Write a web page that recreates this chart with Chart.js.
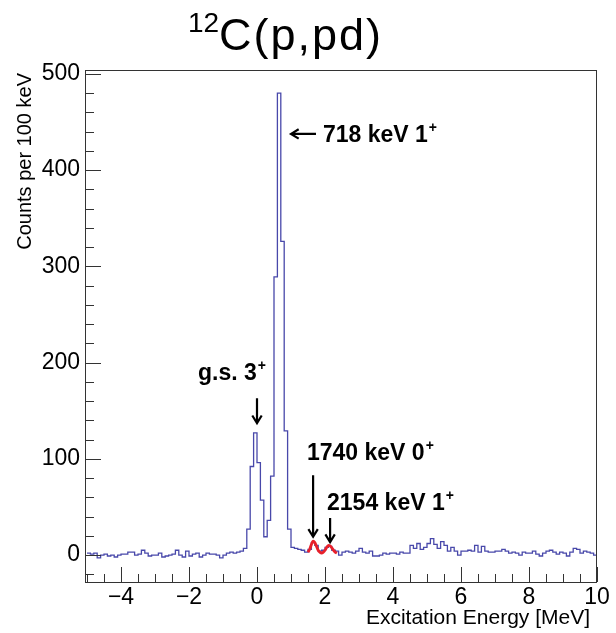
<!DOCTYPE html>
<html>
<head>
<meta charset="utf-8">
<script src="https://cdn.jsdelivr.net/npm/chart.js@4"></script>
<style>
  html, body { margin: 0; padding: 0; background: #fff; }
</style>
</head>
<body>
<canvas id="grafico" width="616" height="633"></canvas>
<script>
// histogram binning: 100 keV bins from -5 MeV
const binStart = -5;
const binWidth = 0.1;

// counts per 100 keV bin (150 bins, -5 .. 10 MeV)
const counts = [
  2, 1, 2, -3, 0, 1, -1, 0, -2, 0,
  1, 1, 3, 3, 0, 1, 5, 2, -1, 0,
  0, 2, -2, -1, 0, 1, 5, 0, -2, 4,
  -1, 1, 2, -2, 0, 2, 1, 1, 0, -3,
  0, 2, 3, 2, 3, 4, 7,
  27, 92, 127, 96, 57, 19, 36, 82, 289, 480, 326, 129, 27, 8,
  7, 6, 5, 3, 6, 13, 10, 4, 5,
  8, 9, 5, 4, 0, 3, 4, 3, 2, 4,
  7, 3, 2, 4, -1, -1, 0, 2, 1, 2,
  2, 1, 3, 2, 2, 10, 7, 12, 6, 8,
  12, 17, 11, 7, 14, 10, 4, 8, 4, 0,
  4, 4, 5, 4, 10, 3, 9, 4, 3, 3,
  4, 4, 6, 4, 2, 3, 2, 0, 3, 2,
  2, 4, 1, -1, 2, 4, 5, 3, 1, 3,
  2, -1, 3, 7, 6, 2, 4, 3, 2, 0
];

// red fit curve
const fitEnergy = [1.50, 1.55, 1.60, 1.65, 1.70, 1.75, 1.80, 1.85, 1.90, 1.95, 2.00, 2.05, 2.10, 2.15, 2.20, 2.25, 2.30, 2.35];
const fitCounts = [3, 6, 11, 14.5, 13, 9, 5, 3, 2, 3, 5, 8, 10, 9.5, 7.5, 5, 3, 2];

const xTicks = [-4, -2, 0, 2, 4, 6, 8, 10];
const yTicks = [0, 100, 200, 300, 400, 500];

// puntos del histograma (borde izquierdo de cada bin + borde final)
const histPoints = counts.map((c, i) => ({ x: binStart + i * binWidth, y: c }));
histPoints.push({ x: binStart + counts.length * binWidth, y: counts[counts.length - 1] });
const fitPoints = fitEnergy.map((e, i) => ({ x: e, y: fitCounts[i] }));

// etiquetas de los estados (posición en unidades de datos)
const estados = [
  { text: '718 keV 1', sup: '+', x: 1.94, y: 429, arrow: [1.735, 437.6, 1.0, 437.6] },
  { text: 'g.s. 3', sup: '+', x: -1.735, y: 182, arrow: [0, 163, 0, 137] },
  { text: '1740 keV 0', sup: '+', x: 1.47, y: 99, arrow: [1.65, 83, 1.65, 19] },
  { text: '2154 keV 1', sup: '+', x: 2.06, y: 47, arrow: [2.15, 38.5, 2.15, 13.5] }
];

function flecha(ctx, x1, y1, x2, y2) {
  const ang = Math.atan2(y2 - y1, x2 - x1);
  const h = 9;
  ctx.beginPath();
  ctx.moveTo(x1, y1);
  ctx.lineTo(x2, y2);
  ctx.moveTo(x2 - h * Math.cos(ang - 0.55), y2 - h * Math.sin(ang - 0.55));
  ctx.lineTo(x2, y2);
  ctx.lineTo(x2 - h * Math.cos(ang + 0.55), y2 - h * Math.sin(ang + 0.55));
  ctx.stroke();
}

const marco = {
  id: 'marco',
  afterDraw(chart) {
    const ctx = chart.ctx;
    const xs = chart.scales.x, ys = chart.scales.y;
    const a = chart.chartArea;
    ctx.save();

    // frame
    ctx.strokeStyle = '#333';
    ctx.lineWidth = 1;
    ctx.strokeRect(a.left - 1.5, a.top + 0.5, a.right - a.left + 1, a.bottom - a.top);

    // ticks hacia dentro
    ctx.beginPath();
    for (let v = -20; v <= 500; v += 20) {
      const y = Math.round(ys.getPixelForValue(v)) + 0.5;
      const len = v % 100 === 0 ? 15 : 8;
      ctx.moveTo(a.left - 1, y);
      ctx.lineTo(a.left - 1 + len, y);
    }
    for (let v = -5; v <= 10; v += 0.5) {
      const x = Math.round(xs.getPixelForValue(v)) + 0.5;
      const len = (Math.abs(v % 2) === 0) ? 15 : 8;
      ctx.moveTo(x, a.bottom);
      ctx.lineTo(x, a.bottom - len);
    }
    ctx.stroke();

    // title
    ctx.fillStyle = '#000';
    ctx.textBaseline = 'alphabetic';
    ctx.textAlign = 'left';
    ctx.font = '28px "Liberation Sans"';
    ctx.fillText('12', 188, 32);
    ctx.font = '45px "Liberation Sans"';
    ctx.letterSpacing = '2px';
    ctx.fillText('C(p,pd)', 219, 50);
    ctx.letterSpacing = '0px';

    // axis titles
    ctx.font = '21px "Liberation Sans"';
    ctx.textAlign = 'right';
    ctx.fillText('Excitation Energy [MeV]', 590, 624);
    ctx.save();
    ctx.translate(25, 73);
    ctx.rotate(-Math.PI / 2);
    ctx.font = '20px "Liberation Sans"';
    ctx.textAlign = 'right';
    ctx.textBaseline = 'middle';
    ctx.fillText('Counts per 100 keV', 0, 0);
    ctx.restore();

    // state labels + arrows
    ctx.textAlign = 'left';
    ctx.textBaseline = 'alphabetic';
    ctx.strokeStyle = '#000';
    ctx.lineWidth = 2.2;
    estados.forEach(s => {
      const x = xs.getPixelForValue(s.x), y = ys.getPixelForValue(s.y);
      ctx.font = 'bold 23px "Liberation Sans"';
      ctx.fillText(s.text, x, y);
      const w = ctx.measureText(s.text).width;
      ctx.font = 'bold 14px "Liberation Sans"';
      ctx.fillText(s.sup, x + w + 1, y - 10);
      const [e1, c1, e2, c2] = s.arrow;
      flecha(ctx, xs.getPixelForValue(e1), ys.getPixelForValue(c1), xs.getPixelForValue(e2), ys.getPixelForValue(c2));
    });
    ctx.restore();
  }
};

new Chart(document.getElementById('grafico'), {
  type: 'line',
  data: {
    datasets: [
      {
        // 'before': cada valor se dibuja sobre su propio bin [x_i, x_i+1]
        data: histPoints,
        stepped: 'before',
        borderColor: '#4848aa',
        borderWidth: 1.3,
        pointRadius: 0,
        fill: false,
        order: 2
      },
      {
        data: fitPoints,
        borderColor: '#e8202a',
        borderWidth: 2.8,
        pointRadius: 0,
        tension: 0.4,
        fill: false,
        order: 1
      }
    ]
  },
  options: {
    responsive: false,
    animation: false,
    devicePixelRatio: 1,
    layout: { padding: { top: 70, right: 19, left: 0, bottom: 0 } },
    plugins: {
      legend: { display: false },
      tooltip: { enabled: false },
      title: { display: false }
    },
    scales: {
      x: {
        type: 'linear',
        min: binStart,
        max: 10,
        grid: { display: false, drawTicks: false },
        border: { display: false },
        afterBuildTicks: s => { s.ticks = xTicks.map(v => ({ value: v })); },
        afterFit: s => { s.height = 51; },
        ticks: {
          font: { family: 'Liberation Sans', size: 23 },
          color: '#000',
          padding: 2,
          maxRotation: 0,
          autoSkip: false,
          callback: v => String(v).replace('-', '\u2212')
        }
      },
      y: {
        type: 'linear',
        min: -28,
        max: 504,
        grid: { display: false, drawTicks: false },
        border: { display: false },
        afterBuildTicks: s => { s.ticks = yTicks.map(v => ({ value: v })); },
        afterFit: s => { s.width = 87; },
        ticks: {
          font: { family: 'Liberation Sans', size: 23 },
          color: '#000',
          padding: 7,
          autoSkip: false
        }
      }
    }
  },
  plugins: [marco]
});
</script>
</body>
</html>
